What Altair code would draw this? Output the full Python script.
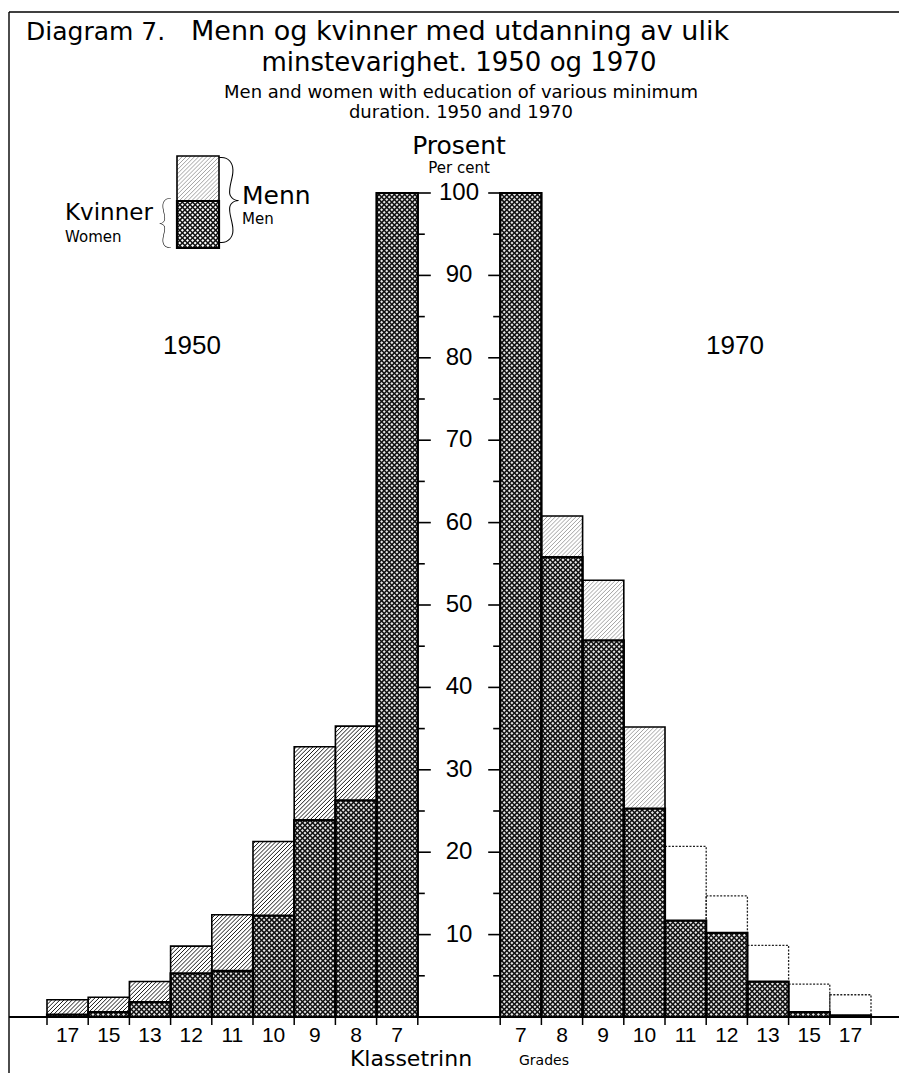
import altair as alt
import pandas as pd
import numpy as np

# ---------------- data ----------------
grades_1950 = ["17", "15", "13", "12", "11", "10", "9", "8", "7"]
men_1950 = [2.1, 2.4, 4.3, 8.6, 12.4, 21.3, 32.8, 35.3, 100.0]
women_1950 = [0.3, 0.6, 1.8, 5.3, 5.6, 12.3, 23.9, 26.3, 100.0]

grades_1970 = ["7", "8", "9", "10", "11", "12", "13", "15", "17"]
men_1970 = [100.0, 60.8, 53.0, 35.2, 20.7, 14.7, 8.7, 4.0, 2.7]
women_1970 = [100.0, 55.8, 45.7, 25.3, 11.7, 10.2, 4.3, 0.6, 0.2]

y_major = [10, 20, 30, 40, 50, 60, 70, 80, 90, 100]
y_minor = [5, 15, 25, 35, 45, 55, 65, 75, 85, 95]

# grades whose men-part is printed faded (white) in 1970
faded_1970 = ["11", "12", "13", "15", "17"]

# ---------------- geometry ----------------
W, H = 824, 824
NSLOT = 20            # 9 bars + 2 empty slots + 9 bars
PXX = W / NSLOT       # px per x unit
PXY = H / 100.0       # px per y unit
K = PXX / PXY         # x-unit expressed in y-units (equal pixels)
FONT = "DejaVu Sans"
NUM = "Liberation Sans"

rows = []
for i, g in enumerate(grades_1950):
    rows.append(dict(year="1950", grade=g, x0=i, x1=i + 1, xc=i + 0.5,
                     men=men_1950[i], women=women_1950[i], faded=False))
for i, g in enumerate(grades_1970):
    s = i + 11
    rows.append(dict(year="1970", grade=g, x0=s, x1=s + 1, xc=s + 0.5,
                     men=men_1970[i], women=women_1970[i],
                     faded=g in faded_1970))
bars = pd.DataFrame(rows)


def hatch(x0, x1, y0, y1, step, d):
    """Segments of a 45-degree hatch clipped to a rectangle (data units)."""
    out = []
    u0, u1 = x0 * K, x1 * K
    if y1 - y0 <= 0:
        return out
    if d > 0:   # '/'
        cmin, cmax = y0 - u1, y1 - u0
        k0, k1 = int(np.floor(cmin / step)), int(np.ceil(cmax / step))
        for k in range(k0, k1 + 1):
            c = k * step
            ua, ub = max(u0, y0 - c), min(u1, y1 - c)
            if ub - ua > 1e-6:
                out.append((ua / K, ua + c, ub / K, ub + c))
    else:       # '\'
        cmin, cmax = y0 + u0, y1 + u1
        k0, k1 = int(np.floor(cmin / step)), int(np.ceil(cmax / step))
        for k in range(k0, k1 + 1):
            c = k * step
            ua, ub = max(u0, c - y1), min(u1, c - y0)
            if ub - ua > 1e-6:
                out.append((ua / K, c - ua, ub / K, c - ub))
    return out


# legend swatch rectangle (pixel positions inside the plot), converted to data
LX0, LX1, LY0, LYM, LY1 = 130, 172, -37, 8, 55
lx0, lx1 = LX0 / PXX, LX1 / PXX
ly_top, ly_mid, ly_bot = (H - LY0) / PXY, (H - LYM) / PXY, (H - LY1) / PXY

men_h, men_h70, wom_h = [], [], []
for r in rows:
    if not r["faded"]:
        segs = hatch(r["x0"], r["x1"], r["women"], r["men"], 0.5, 1)
        (men_h if r["year"] == "1950" else men_h70).extend(segs)
    wom_h.extend(hatch(r["x0"], r["x1"], 0, r["women"], 0.62, 1))
    wom_h.extend(hatch(r["x0"], r["x1"], 0, r["women"], 0.62, -1))
# legend hatching
men_h70.extend(hatch(lx0, lx1, ly_mid, ly_top, 0.5, 1))
wom_h.extend(hatch(lx0, lx1, ly_bot, ly_mid, 0.62, 1))
wom_h.extend(hatch(lx0, lx1, ly_bot, ly_mid, 0.62, -1))

cols = ["hx", "hy", "hx2", "hy2"]
men_hatch = pd.DataFrame(men_h, columns=cols)
men_hatch70 = pd.DataFrame(men_h70, columns=cols)
wom_hatch = pd.DataFrame(wom_h, columns=cols)

xs = alt.Scale(domain=[0, NSLOT], nice=False, zero=False)
ys = alt.Scale(domain=[0, 100], nice=False)
X = lambda f: alt.X(f, type="quantitative", scale=xs, axis=None)
Y = lambda f: alt.Y(f, type="quantitative", scale=ys, axis=None)

base = alt.Chart(bars)

men_fill = base.mark_rect(fill="white", strokeWidth=0).encode(
    x=X("x0"), x2="x1", y=Y("men"), y2=alt.datum(0))

hatch_m = alt.Chart(men_hatch).mark_rule(color="black", strokeWidth=0.9).encode(
    x=X("hx"), y=Y("hy"), x2="hx2", y2="hy2")
hatch_m70 = alt.Chart(men_hatch70).mark_rule(color="#8a8a8a", strokeWidth=0.8).encode(
    x=X("hx"), y=Y("hy"), x2="hx2", y2="hy2")

wom_fill = base.mark_rect(fill="#e8e8e8", strokeWidth=0).encode(
    x=X("x0"), x2="x1", y=Y("women"), y2=alt.datum(0))
hatch_w = alt.Chart(wom_hatch).mark_rule(color="#111", strokeWidth=1.5).encode(
    x=X("hx"), y=Y("hy"), x2="hx2", y2="hy2")

men_line = alt.Chart(bars).transform_filter("!datum.faded").mark_rect(
    fill=None, stroke="black", strokeWidth=1.6).encode(
    x=X("x0"), x2="x1", y=Y("men"), y2=alt.datum(0))
men_line_faded = alt.Chart(bars).transform_filter("datum.faded").mark_rect(
    fill=None, stroke="#222", strokeWidth=1.3, strokeDash=[2, 1.5]).encode(
    x=X("x0"), x2="x1", y=Y("men"), y2=alt.datum(0))
wom_line = base.mark_rect(fill=None, stroke="black", strokeWidth=2.2).encode(
    x=X("x0"), x2="x1", y=Y("women"), y2=alt.datum(0))

# bottom baseline and ticks at bar edges
edges = pd.DataFrame({"e": sorted(set(bars["x0"]).union(set(bars["x1"])))})
baseline = alt.Chart(edges).mark_rule(color="black", strokeWidth=1.6).encode(
    x=alt.value(-38), x2=alt.value(W + 30), y=alt.value(H))
edge_ticks = alt.Chart(edges).mark_rule(color="black", strokeWidth=1.5).encode(
    x=X("e"), y=alt.value(H), y2=alt.value(H + 8))

grade_lbl = base.mark_text(font=NUM, fontSize=21, baseline="middle",
                           align="center", color="black").encode(
    x=X("xc"), y=alt.value(H + 19), text="grade:N")

# central percentage axis
xl = W * 9 / NSLOT
xr = W * 11 / NSLOT
xm = W / 2
maj = pd.DataFrame({"v": y_major})
mino = pd.DataFrame({"v": y_minor})
tick_l = alt.Chart(maj).mark_rule(color="black", strokeWidth=1.6).encode(
    y=Y("v"), x=alt.value(xl), x2=alt.value(xl + 13))
tick_r = alt.Chart(maj).mark_rule(color="black", strokeWidth=1.6).encode(
    y=Y("v"), x=alt.value(xr - 12), x2=alt.value(xr))
mtick_l = alt.Chart(mino).mark_rule(color="black", strokeWidth=1.6).encode(
    y=Y("v"), x=alt.value(xl), x2=alt.value(xl + 7))
mtick_r = alt.Chart(mino).mark_rule(color="black", strokeWidth=1.6).encode(
    y=Y("v"), x=alt.value(xr - 7), x2=alt.value(xr))
y_lbl = alt.Chart(maj).mark_text(font=NUM, fontSize=24, align="center",
                                 baseline="middle", color="black").encode(
    y=Y("v"), x=alt.value(xm), text="v:Q")

one = pd.DataFrame({"a": [0]})


def txt(s, x, y, size, align="left", font=FONT, weight="normal"):
    return alt.Chart(one).mark_text(
        text=s, fontSize=size, align=align, baseline="middle", font=font,
        fontWeight=weight, color="black"
    ).encode(x=alt.value(x), y=alt.value(y))


texts = [
    txt("Diagram 7.", -21, -161, 25),
    txt("Menn og kvinner med utdanning av ulik", 144, -161, 27),
    txt("minstevarighet. 1950 og 1970", xm, -130, 26, "center"),
    txt("Men and women with education of various minimum", xm + 2, -100, 18,
        "center"),
    txt("duration. 1950 and 1970", xm + 2, -80, 18, "center"),
    txt("Prosent", xm, -47, 25, "center"),
    txt("Per cent", xm, -25, 15, "center"),
    txt("1950", 145, 153, 26, "center", font=NUM),
    txt("1970", 688, 153, 26, "center", font=NUM),
    txt("Klassetrinn", 364, 866, 22, "center"),
    txt("Grades", 497, 868, 14, "center"),
    txt("Kvinner", 18, 20, 23),
    txt("Women", 18, 44, 15),
    txt("Menn", 195, 3, 25),
    txt("Men", 195, 26, 15),
    txt("{", 118, 31, 56, "center", font="Lato", weight=100),
    txt("}", 182, 9, 98, "center", font="Lato", weight=100),
]

# legend swatch outlines
leg_m = alt.Chart(one).mark_rect(
    fill=None, stroke="black", strokeWidth=1.6).encode(
    x=alt.value(LX0), x2=alt.value(LX1), y=alt.value(LY0), y2=alt.value(LYM))
leg_w = alt.Chart(one).mark_rect(
    fill=None, stroke="black", strokeWidth=2.2).encode(
    x=alt.value(LX0), x2=alt.value(LX1), y=alt.value(LYM), y2=alt.value(LY1))

# frame
frame_top = alt.Chart(one).mark_rule(color="black", strokeWidth=1.4).encode(
    x=alt.value(-38), x2=alt.value(W + 30), y=alt.value(-181))
frame_left = alt.Chart(one).mark_rule(color="black", strokeWidth=1.4).encode(
    x=alt.value(-38), y=alt.value(-181), y2=alt.value(H + 64))

chart = alt.layer(
    men_fill, hatch_m, hatch_m70, wom_fill, hatch_w,
    men_line, men_line_faded, wom_line,
    baseline, edge_ticks, grade_lbl,
    tick_l, tick_r, mtick_l, mtick_r, y_lbl,
    leg_m, leg_w, frame_top, frame_left,
    *texts,
).properties(
    width=W, height=H,
    padding={"left": 39, "top": 185, "right": 28, "bottom": 56},
    autosize=alt.AutoSizeParams(type="none"),
).configure(background="white").configure_view(strokeWidth=0)

chart.save("out.html", embed_options={"renderer": "svg", "actions": False})
